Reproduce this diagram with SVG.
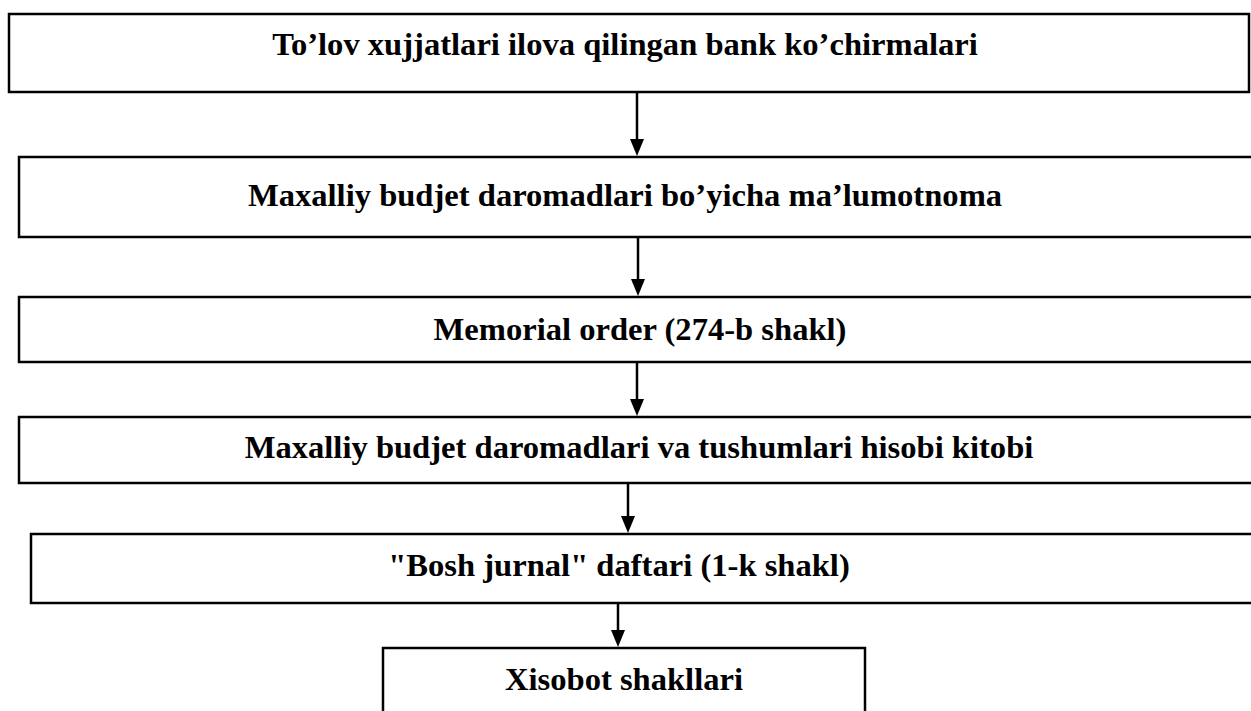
<svg xmlns="http://www.w3.org/2000/svg" width="1251" height="711" viewBox="0 0 1251 711">
<defs>
<style>
.box{fill:#fff;stroke:#000;stroke-width:2.5}
.t{font-family:"Liberation Serif","Times New Roman",serif;font-weight:bold;font-size:32.6px;fill:#000;text-anchor:middle}
.c{stroke:#000;stroke-width:2.5;fill:none}
</style>
</defs>
<rect width="1251" height="711" fill="#fff"/>
<g id="n1"><rect class="box" x="9" y="14" width="1240" height="78"/><text class="t" x="625" y="55">To’lov xujjatlari ilova qilingan bank ko’chirmalari</text></g>
<g id="n2"><rect class="box" x="19" y="157" width="1260" height="80"/><text class="t" x="625" y="206">Maxalliy budjet daromadlari bo’yicha ma’lumotnoma</text></g>
<g id="n3"><rect class="box" x="19" y="297" width="1260" height="65"/><text class="t" x="640" y="340">Memorial order (274-b shakl)</text></g>
<g id="n4"><rect class="box" x="19" y="417" width="1260" height="66"/><text class="t" x="639" y="458">Maxalliy budjet daromadlari va tushumlari hisobi kitobi</text></g>
<g id="n5"><rect class="box" x="31" y="534" width="1250" height="69"/><text class="t" x="619" y="576">"Bosh jurnal" daftari (1-k shakl)</text></g>
<g id="n6"><rect class="box" x="383" y="648" width="482" height="80"/><text class="t" x="624" y="690">Xisobot shakllari</text></g>
<g id="connectors">
<line class="c" x1="637" y1="92" x2="637" y2="140"/><path d="M630,139 L644,139 L637,156 Z"/>
<line class="c" x1="638" y1="237" x2="638" y2="280"/><path d="M631,279 L645,279 L638,296 Z"/>
<line class="c" x1="637" y1="362" x2="637" y2="400"/><path d="M630,399 L644,399 L637,416 Z"/>
<line class="c" x1="628" y1="483" x2="628" y2="517"/><path d="M621,516 L635,516 L628,533 Z"/>
<line class="c" x1="618" y1="603" x2="618" y2="631"/><path d="M611,630 L625,630 L618,647 Z"/>
</g>
</svg>
